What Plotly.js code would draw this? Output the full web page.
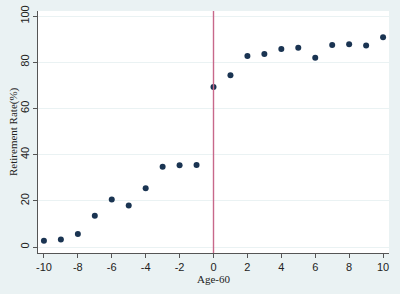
<!DOCTYPE html>
<html>
<head>
<meta charset="utf-8">
<script src="https://cdn.plot.ly/plotly-3.0.1.min.js"></script>
<style>
  html, body { margin: 0; padding: 0; background: #eaf2f3; }
  #chart { width: 400px; height: 294px; }
</style>
</head>
<body>
<div id="chart"></div>
<script>
// Age relative to 60 and retirement rate (%)
const ages = [ -10, -9, -8, -7, -6, -5, -4, -3, -2, -1, 0, 1, 2, 3, 4, 5, 6, 7, 8, 9, 10 ];
const rates = [ 2.7, 3.2, 5.6, 13.5, 20.6, 18.0, 25.4, 34.7, 35.4, 35.5, 69.3, 74.4, 82.7, 83.6, 85.7, 86.3, 82.0, 87.5, 87.8, 87.3, 90.8 ];
const xTicks = [ -10, -8, -6, -4, -2, 0, 2, 4, 6, 8, 10 ];
const yTicks = [ 0, 20, 40, 60, 80, 100 ];
const cutoff = 0;

const axisFont = { family: 'Liberation Sans, Arial, sans-serif', size: 11, color: '#222' };
const titleFont = { family: 'Liberation Serif, Times New Roman, serif', size: 11, color: '#222' };

const chartData = [
    {
        type: 'scatter',
        mode: 'markers',
        x: ages,
        y: rates,
        marker: { color: '#1a3452', size: 6 },
        showlegend: false,
        hoverinfo: 'skip'
    }
];

const chartLayout = {
    width: 400,
    height: 294,
    margin: { l: 38, r: 11, t: 11, b: 41 },
    paper_bgcolor: '#eaf2f3',
    plot_bgcolor: '#ffffff',
    showlegend: false,
    xaxis: {
        range: [ -10.35, 10.35 ],
        tickvals: xTicks,
        ticktext: xTicks.map( String ),  // plain hyphen, as in the original
        ticks: 'outside',
        ticklen: 4,
        tickcolor: '#555',
        tickfont: axisFont,
        showline: true,
        linecolor: '#555',
        linewidth: 1,
        showgrid: false,
        zeroline: false,
        title: { text: 'Age-60', font: titleFont, standoff: 1 }
    },
    yaxis: {
        range: [ -2.6, 102.2 ],
        tickvals: yTicks,
        ticktext: yTicks.map( String ),
        tickangle: -90,
        ticks: 'outside',
        ticklen: 4,
        tickcolor: '#555',
        tickfont: axisFont,
        showline: true,
        linecolor: '#555',
        linewidth: 1,
        showgrid: true,
        gridcolor: '#eaf2f3',
        gridwidth: 1,
        zeroline: false
    },
    annotations: [
        {
            text: 'Retirement Rate(%)',
            font: titleFont,
            textangle: -90,
            xref: 'paper',
            yref: 'paper',
            x: -25 / 351,
            y: 0.5,
            xanchor: 'center',
            yanchor: 'middle',
            showarrow: false
        }
    ],
    shapes: [
        {
            type: 'line',
            xref: 'x',
            yref: 'paper',
            x0: cutoff,
            x1: cutoff,
            y0: 0,
            y1: 1,
            line: { color: '#c8688a', width: 1.4 }
        }
    ]
};

Plotly.newPlot( 'chart', chartData, chartLayout, { displayModeBar: false, staticPlot: true } );
</script>
</body>
</html>
